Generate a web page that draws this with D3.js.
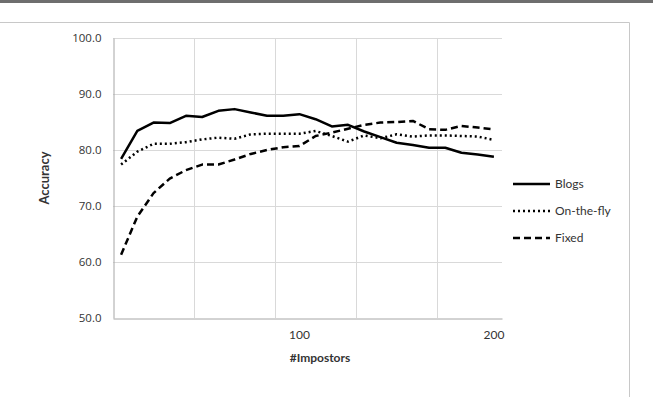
<!DOCTYPE html>
<html lang="en">
<head>
<meta charset="UTF-8">
<title>Accuracy vs Impostors</title>
<style>
  body { margin: 0; background: #fff; }
  svg { display: block; }
</style>
</head>
<body>
<svg width="653" height="397"></svg>
<script src="https://d3js.org/d3.v7.min.js"></script>
<script>
// category labels (only two are shown on the axis)
var categories = ["","","","","","","","","","","","100","","","","","","","","","","","","200"];
var yTicks = [50, 60, 70, 80, 90, 100];

var blogs    = [78.4, 83.4, 84.9, 84.8, 86.1, 85.9, 87.0, 87.3, 86.7, 86.1, 86.1, 86.4,
                85.5, 84.2, 84.5, 83.3, 82.3, 81.3, 80.9, 80.4, 80.4, 79.5, 79.2, 78.8];
var onTheFly = [77.4, 79.7, 81.1, 81.1, 81.4, 81.9, 82.2, 82.0, 82.8, 82.9, 82.9, 82.9,
                83.4, 82.5, 81.5, 82.6, 82.1, 82.8, 82.4, 82.6, 82.6, 82.5, 82.4, 81.8];
var fixed    = [61.3, 68.1, 72.3, 74.9, 76.4, 77.4, 77.4, 78.3, 79.3, 80.0, 80.5, 80.7,
                82.5, 83.1, 83.8, 84.5, 84.9, 85.0, 85.2, 83.7, 83.6, 84.3, 84.0, 83.7];

var seriesNames = ["Blogs", "On-the-fly", "Fixed"];
var seriesData = [blogs, onTheFly, fixed];
var dashes = ["none", "2,3", "7,4"];

var svg = d3.select("svg");
var plot = {left: 113, right: 502, top: 38, bottom: 318};

// frame bits around the chart
svg.append("rect").attr("x", 0).attr("y", 0).attr("width", 653).attr("height", 3).attr("fill", "#6e6e6e");
svg.append("path").attr("d", "M0,22.5H629.5V397").attr("fill", "none").attr("stroke", "#c8c8c8");

var x = d3.scaleBand()
  .domain(d3.range(categories.length))
  .range([plot.left, plot.right]);
var y = d3.scaleLinear()
  .domain([50, 100])
  .range([plot.bottom, plot.top]);

// horizontal gridlines
svg.append("g")
  .selectAll("line")
  .data(yTicks.slice(1))
  .enter().append("line")
  .attr("x1", plot.left).attr("x2", plot.right)
  .attr("y1", function(d){ return Math.round(y(d)) + 0.5; })
  .attr("y2", function(d){ return Math.round(y(d)) + 0.5; })
  .attr("stroke", "#d9d9d9");

// vertical gridlines every 5 categories
var vGrid = d3.range(5, categories.length, 5);
svg.append("g")
  .selectAll("line")
  .data(vGrid)
  .enter().append("line")
  .attr("x1", function(d){ return Math.round(x(d)) + 0.5; })
  .attr("x2", function(d){ return Math.round(x(d)) + 0.5; })
  .attr("y1", plot.top).attr("y2", plot.bottom)
  .attr("stroke", "#d9d9d9");

// axes
var yAxis = d3.axisLeft(y).tickValues(yTicks).tickSize(0).tickPadding(12)
  .tickFormat(d3.format(".1f"));
var gy = svg.append("g").attr("transform", "translate(" + (plot.left + 0.5) + ",0)").call(yAxis);
gy.select(".domain").attr("stroke", "#a6a6a6");
gy.selectAll("text").attr("font-family", "'Open Sans', sans-serif").attr("font-size", 11.5).attr("fill", "#333");

var xAxis = d3.axisBottom(x).tickSize(0).tickPadding(12)
  .tickFormat(function(i){ return categories[i]; });
var gx = svg.append("g").attr("transform", "translate(0," + (plot.bottom + 0.5) + ")").call(xAxis);
gx.select(".domain").attr("stroke", "#a6a6a6");
gx.selectAll("text").attr("font-family", "Lato, sans-serif").attr("font-size", 12).attr("fill", "#333");

// axis titles
svg.append("text")
  .attr("transform", "translate(49," + ((plot.top + plot.bottom) / 2) + ") rotate(-90)")
  .attr("text-anchor", "middle")
  .attr("font-family", "Lato, sans-serif").attr("font-weight", "bold").attr("font-size", 13)
  .attr("fill", "#333")
  .text("Accuracy");
svg.append("text")
  .attr("x", 320).attr("y", 362)
  .attr("text-anchor", "middle")
  .attr("font-family", "Lato, sans-serif").attr("font-weight", "bold").attr("font-size", 12)
  .attr("fill", "#333")
  .text("#Impostors");

// lines
var line = d3.line()
  .x(function(d, i){ return x(i) + x.bandwidth() / 2; })
  .y(function(d){ return y(d); });

svg.append("g")
  .selectAll("path")
  .data(seriesData)
  .enter().append("path")
  .attr("d", line)
  .attr("fill", "none")
  .attr("stroke", "#000")
  .attr("stroke-width", 2.5)
  .attr("stroke-linejoin", "round")
  .attr("stroke-dasharray", function(d, i){ return dashes[i]; });

// legend
var legend = svg.append("g")
  .selectAll("g")
  .data(seriesNames)
  .enter().append("g")
  .attr("transform", function(d, i){ return "translate(513," + (184 + i * 27) + ")"; });
legend.append("line")
  .attr("x1", 0).attr("x2", 37)
  .attr("stroke", "#000").attr("stroke-width", 2.5)
  .attr("stroke-dasharray", function(d, i){ return dashes[i]; });
legend.append("text")
  .attr("x", 42).attr("dy", "0.35em")
  .attr("font-family", "Lato, sans-serif").attr("font-size", 12)
  .attr("fill", "#333")
  .text(function(d){ return d; });
</script>
</body>
</html>
